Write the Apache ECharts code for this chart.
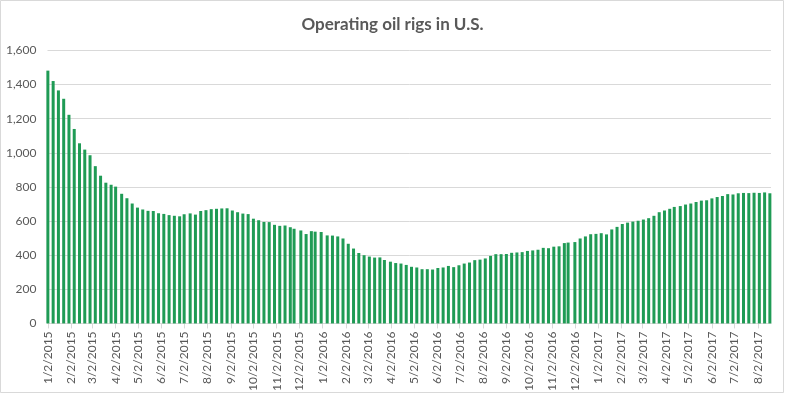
<!DOCTYPE html>
<html>
<head>
<meta charset="utf-8">
<script src="https://cdn.jsdelivr.net/npm/echarts@6/dist/echarts.min.js"></script>
<style>
html,body{margin:0;padding:0;background:#fff;}
#c{width:785px;height:394px;}
</style>
</head>
<body>
<div id="c"></div>
<script>
// Weekly report dates (Excel date axis, M/D/YYYY)
var dates = [
 '2015-01-02','2015-01-09','2015-01-16','2015-01-23','2015-01-30','2015-02-06','2015-02-13','2015-02-20','2015-02-27',
 '2015-03-06','2015-03-13','2015-03-20','2015-03-27','2015-04-02','2015-04-10','2015-04-17','2015-04-24',
 '2015-05-01','2015-05-08','2015-05-15','2015-05-22','2015-05-29','2015-06-05','2015-06-12','2015-06-19','2015-06-26',
 '2015-07-02','2015-07-10','2015-07-17','2015-07-24','2015-07-31','2015-08-07','2015-08-14','2015-08-21','2015-08-28',
 '2015-09-04','2015-09-11','2015-09-18','2015-09-25','2015-10-02','2015-10-09','2015-10-16','2015-10-23','2015-10-30',
 '2015-11-06','2015-11-13','2015-11-20','2015-11-25','2015-12-04','2015-12-11','2015-12-18','2015-12-23','2015-12-31',
 '2016-01-08','2016-01-15','2016-01-22','2016-01-29','2016-02-05','2016-02-12','2016-02-19','2016-02-26',
 '2016-03-04','2016-03-11','2016-03-18','2016-03-24','2016-04-01','2016-04-08','2016-04-15','2016-04-22','2016-04-29',
 '2016-05-06','2016-05-13','2016-05-20','2016-05-27','2016-06-03','2016-06-10','2016-06-17','2016-06-24',
 '2016-07-01','2016-07-08','2016-07-15','2016-07-22','2016-07-29','2016-08-05','2016-08-12','2016-08-19','2016-08-26',
 '2016-09-02','2016-09-09','2016-09-16','2016-09-23','2016-09-30','2016-10-07','2016-10-14','2016-10-21','2016-10-28',
 '2016-11-04','2016-11-11','2016-11-18','2016-11-23','2016-12-02','2016-12-09','2016-12-16','2016-12-23','2016-12-30',
 '2017-01-06','2017-01-13','2017-01-20','2017-01-27','2017-02-03','2017-02-10','2017-02-17','2017-02-24',
 '2017-03-03','2017-03-10','2017-03-17','2017-03-24','2017-03-31','2017-04-07','2017-04-13','2017-04-21','2017-04-28',
 '2017-05-05','2017-05-12','2017-05-19','2017-05-26','2017-06-02','2017-06-09','2017-06-16','2017-06-23','2017-06-30',
 '2017-07-07','2017-07-14','2017-07-21','2017-07-28','2017-08-04','2017-08-11','2017-08-18'
];
var rigs = [
 1482,1421,1366,1317,1223,1140,1056,1019,986,
 922,866,825,813,802,760,734,703,
 679,668,660,659,646,642,635,631,628,
 640,645,638,659,664,670,672,674,675,
 662,652,644,641,614,605,595,594,578,
 572,574,564,555,545,524,541,538,536,
 516,515,510,498,467,439,413,400,
 392,386,387,372,362,354,351,343,332,
 328,318,318,316,325,328,337,330,
 341,351,357,371,374,381,396,406,406,
 407,414,416,418,425,428,432,443,441,
 450,452,471,474,477,498,510,523,525,
 529,522,551,566,583,591,597,602,
 609,617,631,652,662,672,683,688,697,
 703,712,720,722,733,741,747,758,756,
 763,765,764,766,765,768,763
];
// Axis tick labels (2nd of each month)
var tickLabels = [
 '1/2/2015','2/2/2015','3/2/2015','4/2/2015','5/2/2015','6/2/2015','7/2/2015','8/2/2015','9/2/2015','10/2/2015','11/2/2015','12/2/2015',
 '1/2/2016','2/2/2016','3/2/2016','4/2/2016','5/2/2016','6/2/2016','7/2/2016','8/2/2016','9/2/2016','10/2/2016','11/2/2016','12/2/2016',
 '1/2/2017','2/2/2017','3/2/2017','4/2/2017','5/2/2017','6/2/2017','7/2/2017','8/2/2017'
];
var yTicks = [0,200,400,600,800,1000,1200,1400,1600];

var DAY = 86400000;
var start = Date.UTC(2015,0,2);
function isoDay(s){ var p = s.split('-'); return Math.round((Date.UTC(+p[0], +p[1]-1, +p[2]) - start)/DAY); }
function mdyDay(s){ var p = s.split('/'); return Math.round((Date.UTC(+p[2], +p[0]-1, +p[1]) - start)/DAY); }
var tickDays = tickLabels.map(mdyDay);
var labelByDay = {};
tickLabels.forEach(function(t,i){ labelByDay[tickDays[i]] = t; });
var seriesData = dates.map(function(d,i){ return [isoDay(d), rigs[i]]; });
var lastDay = isoDay(dates[dates.length-1]);

var chart = echarts.init(document.getElementById('c'), null, {renderer:'canvas'});
chart.setOption({
  animation: false,
  backgroundColor: '#ffffff',
  title: {
    text: 'Operating oil rigs in U.S.',
    left: 'center', top: 11,
    textStyle: {fontFamily: 'Lato', fontSize: 17, fontWeight: 'bold', color: '#595959'}
  },
  grid: {left: 47.5, right: 14, top: 50.5, bottom: 69, containLabel: false},
  xAxis: {
    type: 'value',
    min: -0.5, max: lastDay + 1.5,
    axisLine: {show: true, lineStyle: {color: '#d9d9d9', width: 1}},
    axisTick: {show: true, length: 5, lineStyle: {color: '#d9d9d9'}, customValues: tickDays},
    axisLabel: {
      customValues: tickDays,
      rotate: 90, margin: 8,
      fontFamily: 'Lato', fontSize: 12, color: '#595959',
      formatter: function(v){ return labelByDay[Math.round(v)] || ''; }
    },
    splitLine: {show: false}
  },
  yAxis: {
    type: 'value', min: 0, max: 1600, interval: 200,
    axisLine: {show: false}, axisTick: {show: false},
    axisLabel: {
      margin: 11, fontFamily: 'Lato', fontSize: 12, color: '#595959',
      formatter: function(v){ return v.toLocaleString('en-US'); }
    },
    splitLine: {lineStyle: {color: '#d9d9d9', width: 1}}
  },
  series: [{
    type: 'bar',
    data: seriesData,
    barWidth: 3,
    itemStyle: {color: '#1f9b55'}
  }],
  graphic: [{
    type: 'rect', silent: true,
    shape: {x: 0.5, y: 0.5, width: 783, height: 392},
    style: {fill: 'none', stroke: '#d9d9d9', lineWidth: 1}
  }]
});
</script>
</body>
</html>
